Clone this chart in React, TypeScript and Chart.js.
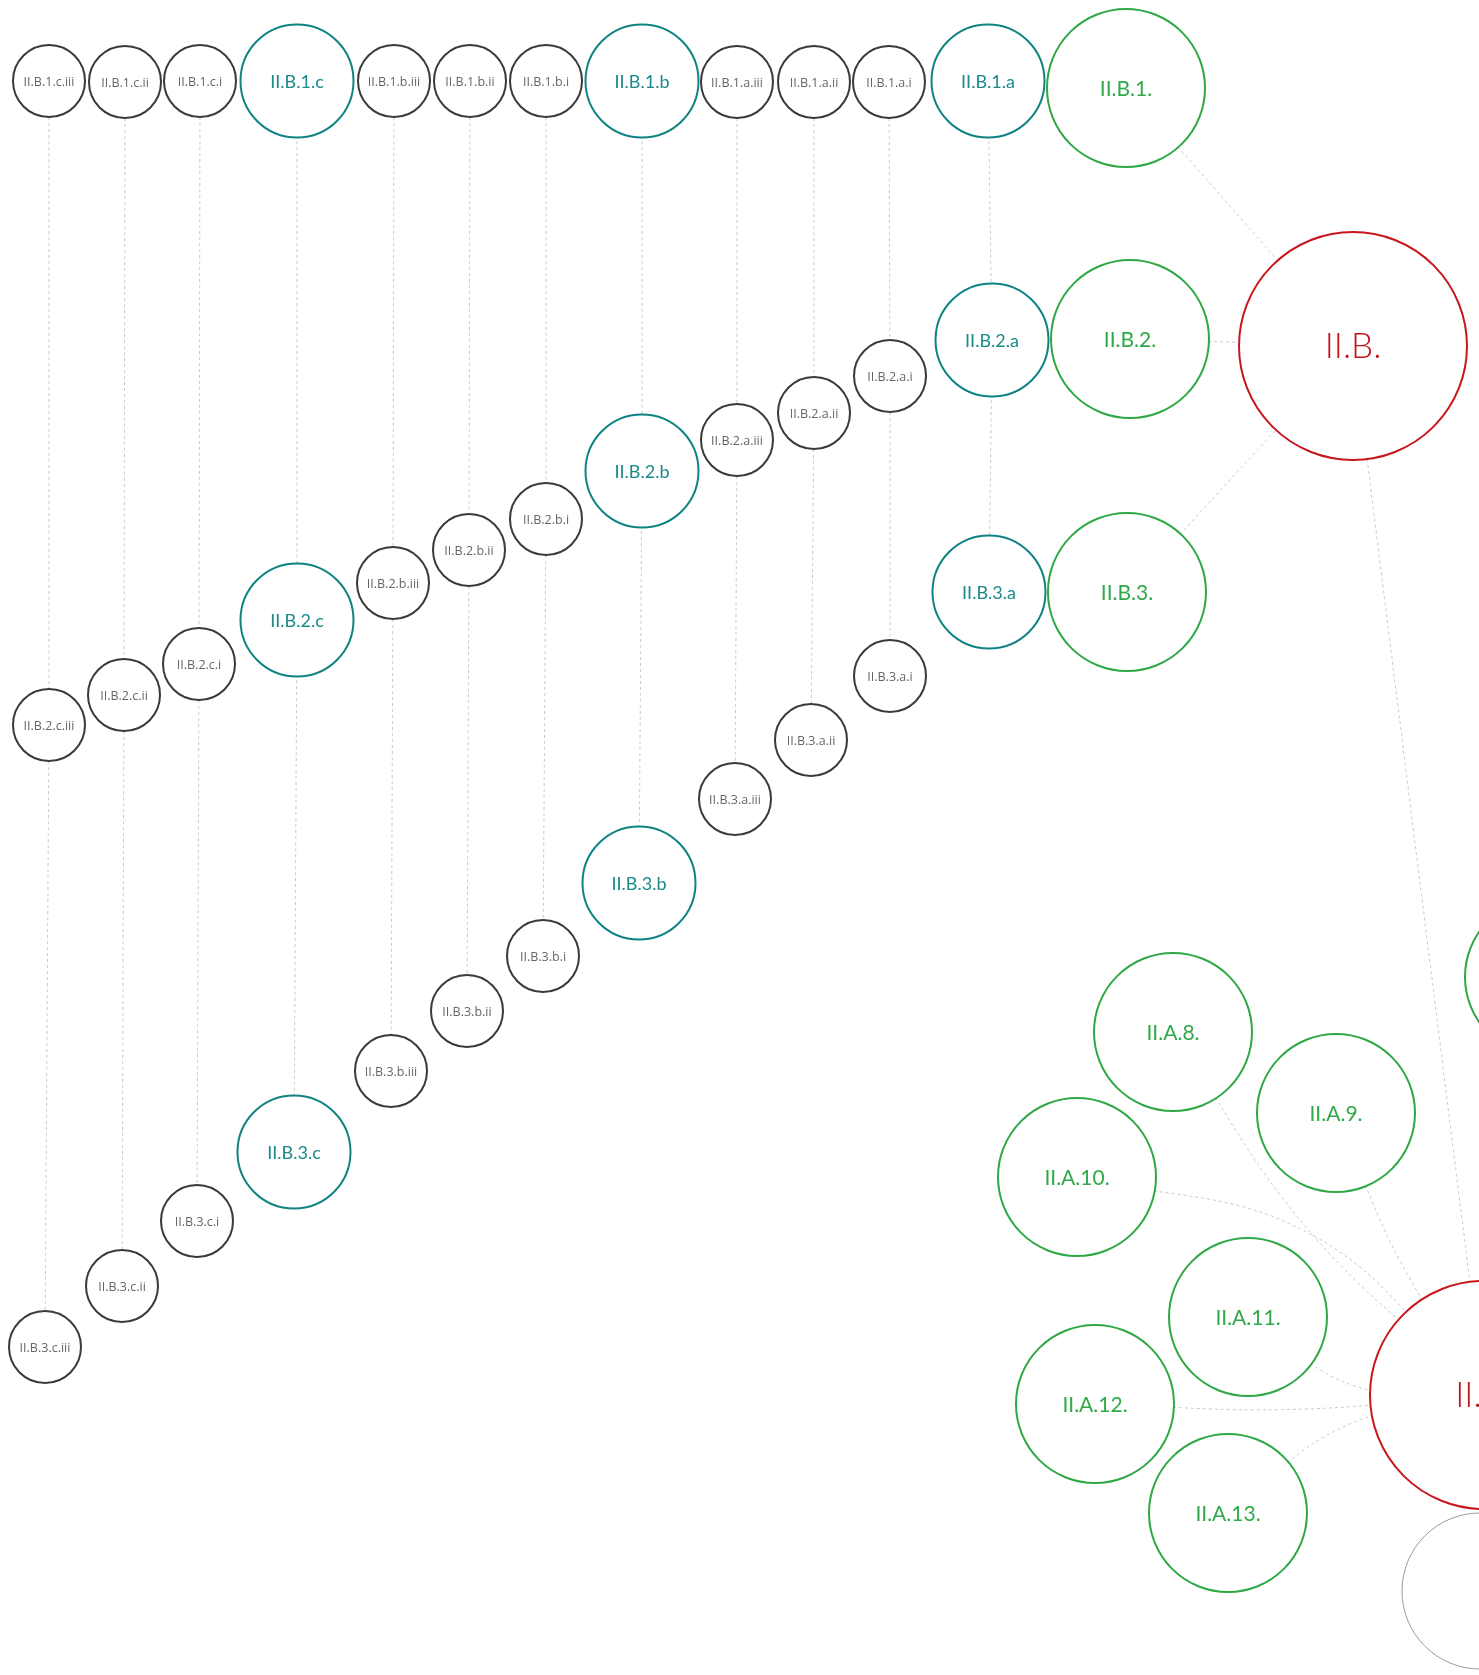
import React, { useEffect, useRef } from 'react';
import { Chart, registerables } from 'chart.js';

Chart.register(...registerables);

// ---- data ----
const nodeLabels = [
  'II.B.', 'II.A.',
  'II.B.1.', 'II.B.2.', 'II.B.3.',
  'II.B.1.c', 'II.B.1.b', 'II.B.1.a',
  'II.B.2.c', 'II.B.2.b', 'II.B.2.a',
  'II.B.3.c', 'II.B.3.b', 'II.B.3.a',
  'II.B.1.c.iii', 'II.B.1.c.ii', 'II.B.1.c.i', 'II.B.1.b.iii', 'II.B.1.b.ii', 'II.B.1.b.i', 'II.B.1.a.iii', 'II.B.1.a.ii', 'II.B.1.a.i',
  'II.B.2.c.iii', 'II.B.2.c.ii', 'II.B.2.c.i', 'II.B.2.b.iii', 'II.B.2.b.ii', 'II.B.2.b.i', 'II.B.2.a.iii', 'II.B.2.a.ii', 'II.B.2.a.i',
  'II.B.3.c.iii', 'II.B.3.c.ii', 'II.B.3.c.i', 'II.B.3.b.iii', 'II.B.3.b.ii', 'II.B.3.b.i', 'II.B.3.a.iii', 'II.B.3.a.ii', 'II.B.3.a.i',
  'II.A.7.', 'II.A.8.', 'II.A.9.', 'II.A.10.', 'II.A.11.', 'II.A.12.', 'II.A.13.',
  'II.A.14.'
];
const nodeX = [
  1353, 1484,
  1126, 1130, 1127,
  297, 642, 988,
  297, 642, 992,
  294, 639, 989,
  49, 125, 200, 394, 470, 546, 737, 814, 889,
  49, 124, 199, 393, 469, 546, 737, 814, 890,
  45, 122, 197, 391, 467, 543, 735, 811, 890,
  1544, 1173, 1336, 1077, 1248, 1095, 1228,
  1480
];
const nodeY = [
  346, 1395,
  88, 339, 592,
  81, 81, 81,
  620, 471, 340,
  1152, 883, 592,
  81, 82, 81, 81, 81, 81, 82, 82, 82,
  725, 695, 664, 583, 550, 519, 440, 413, 376,
  1347, 1286, 1221, 1071, 1011, 956, 799, 740, 676,
  977, 1032, 1113, 1177, 1317, 1404, 1513,
  1591
];
// 0 = section, 1 = subsection, 2 = item, 3 = sub-item, 4 = other
const nodeLevel = [
  0, 0,
  1, 1, 1,
  2, 2, 2,
  2, 2, 2,
  2, 2, 2,
  3, 3, 3, 3, 3, 3, 3, 3, 3,
  3, 3, 3, 3, 3, 3, 3, 3, 3,
  3, 3, 3, 3, 3, 3, 3, 3, 3,
  1, 1, 1, 1, 1, 1, 1,
  4
];
const nodeShowLabel = nodeLevel.map((l) => l !== 4);

const edgeFrom = [
  'II.B.1.c.iii', 'II.B.1.c.ii', 'II.B.1.c.i', 'II.B.1.c', 'II.B.1.b.iii', 'II.B.1.b.ii', 'II.B.1.b.i', 'II.B.1.b', 'II.B.1.a.iii', 'II.B.1.a.ii', 'II.B.1.a.i', 'II.B.1.a',
  'II.B.2.c.iii', 'II.B.2.c.ii', 'II.B.2.c.i', 'II.B.2.c', 'II.B.2.b.iii', 'II.B.2.b.ii', 'II.B.2.b.i', 'II.B.2.b', 'II.B.2.a.iii', 'II.B.2.a.ii', 'II.B.2.a.i', 'II.B.2.a',
  'II.B.1.', 'II.B.2.', 'II.B.3.', 'II.B.',
  'II.A.7.', 'II.A.8.', 'II.A.9.', 'II.A.10.', 'II.A.11.', 'II.A.12.', 'II.A.13.'
];
const edgeTo = [
  'II.B.2.c.iii', 'II.B.2.c.ii', 'II.B.2.c.i', 'II.B.2.c', 'II.B.2.b.iii', 'II.B.2.b.ii', 'II.B.2.b.i', 'II.B.2.b', 'II.B.2.a.iii', 'II.B.2.a.ii', 'II.B.2.a.i', 'II.B.2.a',
  'II.B.3.c.iii', 'II.B.3.c.ii', 'II.B.3.c.i', 'II.B.3.c', 'II.B.3.b.iii', 'II.B.3.b.ii', 'II.B.3.b.i', 'II.B.3.b', 'II.B.3.a.iii', 'II.B.3.a.ii', 'II.B.3.a.i', 'II.B.3.a',
  'II.B.', 'II.B.', 'II.B.', 'II.A.',
  'II.A.', 'II.A.', 'II.A.', 'II.A.', 'II.A.', 'II.A.', 'II.A.'
];
const edgeBend = [
  0, 0, 0, 0, 0, 0, 0, 0, 0, 0, 0, 0,
  0, 0, 0, 0, 0, 0, 0, 0, 0, 0, 0, 0,
  0, 0, 0, 0,
  0, 26, 12, -60, 32, 10, -30
];

// ---- styles ----
const LEVEL_STYLE = [
  { r: 114, stroke: '#c8161d', width: 2, font: '300 35px Lato', text: '#c41318' },
  { r: 79, stroke: '#2ea844', width: 2, font: '400 21px Lato', text: '#30aa48' },
  { r: 56.5, stroke: '#0f8383', width: 2, font: '400 18px Lato', text: '#1a8a8a' },
  { r: 36, stroke: '#3a3a3a', width: 2, font: '12.5px "Open Sans"', text: '#666666' },
  { r: 78, stroke: '#9a9a9a', width: 1, font: '12px Lato', text: '#999999' },
];
const W = 1479;
const H = 1675;

export default function App() {
  const ref = useRef<HTMLCanvasElement | null>(null);

  useEffect(() => {
    if (!ref.current) return;
    const idx = (name: string) => nodeLabels.indexOf(name);

    const edgeSets = edgeFrom.map((f, i) => {
      const a = idx(f);
      const b = idx(edgeTo[i]);
      const ax = nodeX[a], ay = nodeY[a], bx = nodeX[b], by = nodeY[b];
      const pts: { x: number; y: number }[] = [{ x: ax, y: ay }];
      const bend = edgeBend[i];
      if (bend !== 0) {
        const dx = bx - ax, dy = by - ay;
        const len = Math.hypot(dx, dy);
        pts.push({ x: (ax + bx) / 2 + (-dy / len) * bend, y: (ay + by) / 2 + (dx / len) * bend });
      }
      pts.push({ x: bx, y: by });
      return {
        type: 'line' as const,
        data: pts,
        borderColor: '#c9c9c9',
        borderWidth: 1,
        borderDash: [3, 3],
        pointRadius: 0,
        tension: 0.4,
        fill: false,
        clip: false as any,
        order: 1,
      };
    });

    const nodeSet = {
      type: 'scatter' as const,
      data: nodeX.map((x, i) => ({ x, y: nodeY[i] })),
      pointRadius: nodeLevel.map((l) => LEVEL_STYLE[l].r),
      pointHoverRadius: nodeLevel.map((l) => LEVEL_STYLE[l].r),
      pointBorderColor: nodeLevel.map((l) => LEVEL_STYLE[l].stroke),
      pointBorderWidth: nodeLevel.map((l) => LEVEL_STYLE[l].width),
      pointBackgroundColor: '#ffffff',
      showLine: false,
      clip: false as any,
      order: 0,
    };

    const labelPlugin = {
      id: 'nodeLabels',
      afterDatasetsDraw(chart: any) {
        const ctx = chart.ctx;
        const xs = chart.scales.x;
        const ys = chart.scales.y;
        ctx.save();
        ctx.textAlign = 'center';
        ctx.textBaseline = 'middle';
        nodeLabels.forEach((lab, i) => {
          if (!nodeShowLabel[i]) return;
          const st = LEVEL_STYLE[nodeLevel[i]];
          ctx.font = st.font;
          ctx.fillStyle = st.text;
          ctx.fillText(lab, xs.getPixelForValue(nodeX[i]), ys.getPixelForValue(nodeY[i]) + 1);
        });
        ctx.restore();
      },
    };

    const chart = new Chart(ref.current, {
      type: 'scatter',
      data: { datasets: [nodeSet as any, ...(edgeSets as any[])] },
      options: {
        responsive: false,
        animation: false,
        events: [],
        layout: { padding: 0, autoPadding: false },
        plugins: { legend: { display: false }, tooltip: { enabled: false } },
        scales: {
          x: { type: 'linear', min: 0, max: W, display: false, offset: false },
          y: { type: 'linear', min: 0, max: H, reverse: true, display: false, offset: false },
        },
      },
      plugins: [labelPlugin],
    });
    return () => chart.destroy();
  }, []);

  return (
    <div style={{ position: 'absolute', left: 0, top: 0, width: W, height: H, background: '#fff' }}>
      <canvas ref={ref} width={W} height={H} style={{ width: W, height: H, display: 'block' }} />
    </div>
  );
}
